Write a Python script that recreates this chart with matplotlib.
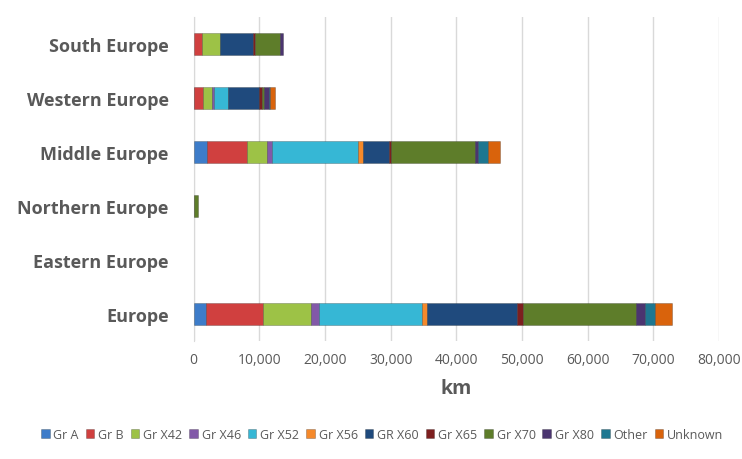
import numpy as np
import matplotlib.pyplot as plt
from matplotlib.ticker import FuncFormatter

plt.rcParams['font.family'] = ['Open Sans', 'DejaVu Sans']

# Regiones (de abajo hacia arriba)
regions = ["Europe", "Eastern Europe", "Northern Europe",
           "Middle Europe", "Western Europe", "South Europe"]

grades = ["Gr A", "Gr B", "Gr X42", "Gr X46", "Gr X52", "Gr X56",
          "GR X60", "Gr X65", "Gr X70", "Gr X80", "Other", "Unknown"]

# km por grado, en el orden de regions
gr_a    = [1950, 0, 0, 2050, 50, 0]
gr_b    = [8650, 0, 0, 6000, 1300, 1200]
gr_x42  = [7300, 0, 0, 3050, 1450, 2800]
gr_x46  = [1250, 0, 0, 900, 250, 0]
gr_x52  = [15550, 0, 0, 13100, 2250, 0]
gr_x56  = [800, 0, 0, 700, 0, 0]
gr_x60  = [13800, 0, 50, 4000, 4700, 5100]
gr_x65  = [800, 0, 0, 300, 400, 250]
gr_x70  = [17300, 0, 550, 12800, 300, 3800]
gr_x80  = [1300, 0, 0, 400, 800, 400]
other   = [1600, 0, 0, 1500, 100, 0]
unknown = [2600, 0, 0, 1800, 850, 0]

series = [gr_a, gr_b, gr_x42, gr_x46, gr_x52, gr_x56,
          gr_x60, gr_x65, gr_x70, gr_x80, other, unknown]

colors = ["#3D7CC9", "#D0403F", "#9DC246", "#8259A8", "#36B7D5", "#F5892A",
          "#1F4A7D", "#7D1F1F", "#5E7D2A", "#4B3570", "#1E7790", "#D9630C"]

fig = plt.figure(figsize=(7.42, 4.6), dpi=100)
ax = fig.add_axes([0.261, 0.257, 0.708, 0.704])

y = np.arange(len(regions))
left = np.zeros(len(regions))
for name, vals, c in zip(grades, series, colors):
    vals = np.array(vals, dtype=float)
    lw = np.where(vals > 0, 0.6, 0.0)
    ax.barh(y, vals, left=left, height=0.4, color=c, label=name,
            edgecolor=(0, 0, 0, 0.25), linewidth=lw, zorder=3)
    left += vals

ax.set_xlim(0, 80000)
ax.set_ylim(-0.5, len(regions) - 0.5)
ax.set_xticks(np.arange(0, 80001, 10000))
ax.xaxis.set_major_formatter(FuncFormatter(lambda v, p: f"{int(v):,}"))
ax.set_yticks(y)
ax.set_yticklabels(regions, fontsize=13, fontweight="bold", color="#595959")
ax.tick_params(axis="x", labelsize=10, colors="#595959", length=0, pad=8)
ax.tick_params(axis="y", length=0, pad=18)
ax.grid(axis="x", color="#D9D9D9", linewidth=1, zorder=0)
for s in ["top", "right", "bottom"]:
    ax.spines[s].set_visible(False)
ax.spines["left"].set_color("#D9D9D9")
ax.set_xlabel("km", fontsize=14, fontweight="bold", color="#595959", labelpad=8)

leg = fig.legend(loc="lower center", bbox_to_anchor=(0.515, 0.015), ncol=12,
                 frameon=False, fontsize=9, handlelength=0.7, handleheight=0.7,
                 handletextpad=0.3, columnspacing=0.55, labelcolor="#595959")

fig.savefig("out.png", dpi=100)
